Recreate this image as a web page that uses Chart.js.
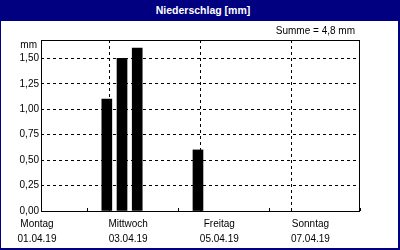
<!DOCTYPE html>
<html>
<head>
<meta charset="utf-8">
<script src="https://cdn.jsdelivr.net/npm/chart.js@4"></script>
<style>
  body { margin: 0; background: #fff; }
  #wrap { position: relative; width: 400px; height: 250px; background: #fff; font-family: "Liberation Sans", Arial, sans-serif; }
  #head { position: absolute; left: 0; top: 0; width: 400px; height: 21px; background: #000080; color: #fff;
          font-weight: bold; font-size: 10.5px; line-height: 21px; text-align: center; padding-left: 6px; box-sizing: border-box; }
  #frame { position: absolute; left: 0; top: 0; width: 400px; height: 250px; box-sizing: border-box;
           border-left: 1px solid #000080; border-right: 2px solid #000080; border-bottom: 2px solid #000080; pointer-events: none; }
  #sum { position: absolute; right: 45px; top: 24px; font-size: 10px; line-height: 13px; color: #000; }
  canvas { position: absolute; left: 0; top: 0; }
</style>
</head>
<body>
<div id="wrap">
  <canvas id="myChart" width="400" height="250"></canvas>
  <div id="head">Niederschlag [mm]</div>
  <div id="sum">Summe = 4,8 mm</div>
  <div id="frame"></div>
</div>
<script>
// rain amounts (mm), time of each bar
const barTimes = ['02.04.19 10:40', '02.04.19 18:40', '03.04.19 02:40', '04.04.19 10:40'];
const barValues = [1.1, 1.5, 1.6, 0.6];

// x axis: days from 01.04.19
const majorDays = [0, 2, 4, 6];
const majorNames = ['Montag', 'Mittwoch', 'Freitag', 'Sonntag'];
const majorDates = ['01.04.19', '03.04.19', '05.04.19', '07.04.19'];
const minorDays = [1, 3, 5, 7];

// y axis
const yTicks = [0, 0.25, 0.5, 0.75, 1.0, 1.25, 1.5];
const yMax = 1.68;

function hoursFromStart(s) { // 'dd.mm.yy hh:mm' -> hours since 01.04.19 00:00
  const day = parseInt(s.slice(0, 2), 10) - 1;
  const hh = parseInt(s.slice(9, 11), 10);
  const mm = parseInt(s.slice(12, 14), 10);
  return day * 24 + hh + mm / 60;
}

const points = barTimes.map(function(t, i) { return { x: hoursFromStart(t), y: barValues[i] }; });

const framePlugin = {
  id: 'framePlugin',
  afterDatasetsDraw(chart) {
    const ctx = chart.ctx;
    const a = chart.chartArea;
    const xs = chart.scales.x;
    ctx.save();
    ctx.strokeStyle = '#000';
    ctx.lineWidth = 1;
    ctx.strokeRect(Math.round(a.left) + 0.5, Math.round(a.top) + 0.5, Math.round(a.right - a.left) - 1, Math.round(a.bottom - a.top));
    // small ticks for the odd days
    ctx.beginPath();
    minorDays.forEach(function(d) {
      const px = Math.round(xs.getPixelForValue(d * 24)) + 0.5;
      ctx.moveTo(px, a.bottom - 3);
      ctx.lineTo(px, a.bottom);
    });
    ctx.stroke();
    ctx.fillStyle = '#000';
    ctx.font = '10px "Liberation Sans", Arial, sans-serif';
    ctx.textAlign = 'right';
    ctx.textBaseline = 'alphabetic';
    ctx.fillText('mm', a.left - 4, a.top + 8);
    ctx.restore();
  }
};

const ctx = document.getElementById('myChart').getContext('2d');
const myChart = new Chart(ctx, {
  type: 'bar',
  data: {
    datasets: [{
      data: points,
      backgroundColor: '#000',
      borderWidth: 0,
      barThickness: 10
    }]
  },
  options: {
    responsive: false,
    animation: false,
    layout: { padding: { left: 0, top: 40, right: 40, bottom: 0 } },
    plugins: { legend: { display: false }, tooltip: { enabled: false } },
    scales: {
      x: {
        type: 'linear',
        min: 0,
        max: 168,
        offset: false,
        afterBuildTicks: function(scale) {
          const t = [];
          for (let d = 0; d <= 7; d++) t.push({ value: d * 24 });
          scale.ticks = t;
        },
        afterFit: function(scale) { scale.height = 39; },
        border: { display: false, dash: [3, 3] },
        grid: {
          drawTicks: false,
          color: function(c) {
            const d = c.tick ? c.tick.value / 24 : -1;
            return (d > 0 && majorDays.indexOf(d) >= 0) ? '#000' : 'rgba(0,0,0,0)';
          }
        },
        ticks: {
          autoSkip: false,
          maxRotation: 0,
          padding: 6,
          labelOffset: -4,
          color: '#000',
          font: { family: '"Liberation Sans", Arial, sans-serif', size: 10, lineHeight: 1.5 },
          callback: function(value) {
            const i = majorDays.indexOf(value / 24);
            return i >= 0 ? [majorNames[i], majorDates[i]] : '';
          }
        }
      },
      y: {
        min: 0,
        max: yMax,
        afterBuildTicks: function(scale) {
          scale.ticks = yTicks.map(function(v) { return { value: v }; });
        },
        afterFit: function(scale) { scale.width = 41; },
        border: { display: false, dash: [3, 3] },
        grid: { drawTicks: false, color: '#000' },
        ticks: {
          padding: 2,
          color: '#000',
          font: { family: '"Liberation Sans", Arial, sans-serif', size: 10 },
          callback: function(value) { return value.toFixed(2).replace('.', ','); }
        }
      }
    }
  },
  plugins: [framePlugin]
});
</script>
</body>
</html>
